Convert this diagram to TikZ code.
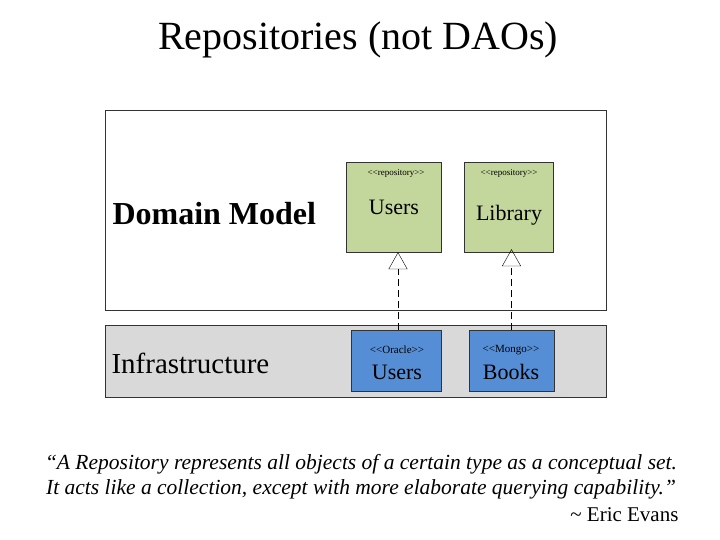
\documentclass[tikz,border=0pt]{standalone}
\usepackage{fontspec}
\setmainfont{Liberation Serif}
\usetikzlibrary{positioning,arrows.meta}

\definecolor{repogreen}{RGB}{195,214,155}
\definecolor{implblue}{RGB}{85,142,213}
\definecolor{infragray}{RGB}{217,217,217}

\newcommand{\stereo}[1]{{<}{<}#1{>}{>}}

\tikzset{
  repo/.style={draw=black!80, fill=repogreen, minimum width=95pt, minimum height=90pt, inner sep=0pt},
  impl/.style={draw=black!80, fill=implblue, minimum width=90pt, minimum height=61pt, inner sep=0pt},
  realizes/.style={dashed, dash pattern=on 7pt off 4pt, -{Triangle[open, length=17pt, width=19pt]}},
}

\begin{document}
\begin{tikzpicture}[x=1pt, y=-1pt]
      \useasboundingbox (0,0) rectangle (720,540);
%      \draw[help lines] (0,0) grid[step=50] (720,540);

      \node (title) at (358,40) {\fontsize{40}{44}\selectfont Repositories (not DAOs)};

      \draw[draw=black!80] (105,110) rectangle (606,310);
      \node[anchor=base west] (domain) at (109,225) {\fontsize{32}{36}\selectfont\bfseries Domain Model};

      \draw[draw=black!80, fill=infragray] (105,325) rectangle (606,397);
      \node[anchor=base west] (infra) at (108,373) {\fontsize{29}{32}\selectfont Infrastructure};

      % repositories in the domain
      \node[repo] (users) at (394,207) {};
      \node[font=\fontsize{9}{10}\selectfont] at (396,173) {\stereo{repository}};
      \node[font=\fontsize{22}{24}\selectfont] at (394,207) {Users};

      \node[repo, minimum width=89pt] (library) at (508.5,207) {};
      \node[font=\fontsize{9}{10}\selectfont] at (509,173) {\stereo{repository}};
      \node[font=\fontsize{22}{24}\selectfont] at (509,215) {Library};

      % implementations
      \node[impl] (oracle) at (396.5,361) {};
      \node[font=\fontsize{11}{12}\selectfont] at (397,350) {\stereo{Oracle}};
      \node[font=\fontsize{22}{24}\selectfont] at (397,372) {Users};

      \node[impl, minimum width=85pt] (mongo) at (511.5,361) {};
      \node[font=\fontsize{11}{12}\selectfont] at (511,350) {\stereo{Mongo}};
      \node[font=\fontsize{22}{24}\selectfont] at (511,372) {Books};

      \draw[realizes] ([xshift=1.5pt]oracle.north) -- ([xshift=1.5pt]users.south -| oracle.north);
      \draw[realizes] (mongo.north) -- ([yshift=3pt]library.south -| mongo.north);

      \node[align=center, font=\fontsize{21.5}{25}\selectfont\itshape] (quote) at (361,477)
        {``A Repository represents all objects of a certain type as a conceptual set.\\
         It acts like a collection, except with more elaborate querying capability.''};
      \node[anchor=base east, font=\fontsize{21}{24}\selectfont] (author) at (682,521) {\textasciitilde{} Eric Evans};
\end{tikzpicture}
\end{document}
